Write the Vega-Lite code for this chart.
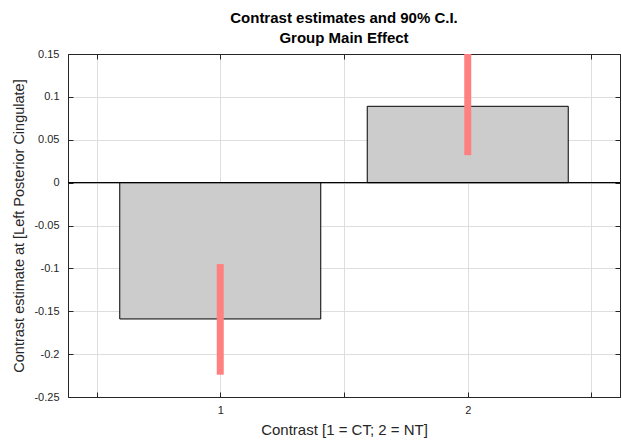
{
  "$schema": "https://vega.github.io/schema/vega-lite/v6.json",
  "autosize": "none",
  "width": 552,
  "height": 343,
  "padding": {"left": 68, "top": 54, "right": 2, "bottom": 45},
  "background": "white",
  "config": {
    "font": "Liberation Sans",
    "view": {"stroke": "#262626", "strokeWidth": 1},
    "axis": {
      "labelFont": "Liberation Sans",
      "titleFont": "Liberation Sans",
      "labelColor": "#262626",
      "titleColor": "#262626",
      "domainColor": "#262626",
      "tickColor": "#262626",
      "gridColor": "#dedede",
      "labelFontSize": 11,
      "titleFontSize": 14.5,
      "titleFontWeight": "normal",
      "tickSize": -5
    }
  },
  "title": {
    "text": ["Contrast estimates and 90% C.I.", "Group Main Effect"],
    "font": "Liberation Sans",
    "fontSize": 15,
    "fontWeight": "bold",
    "color": "#000000",
    "anchor": "middle",
    "frame": "group",
    "lineHeight": 20,
    "offset": 2
  },
  "data": {
    "values": [
      {"contrast": 1, "estimate": -0.159, "lo": -0.224, "hi": -0.095},
      {"contrast": 2, "estimate": 0.089, "lo": 0.032, "hi": 0.152}
    ]
  },
  "resolve": {"axis": {"x": "independent", "y": "independent"}},
  "layer": [
    {
      "mark": {"type": "bar", "width": 201, "fill": "#cccccc", "stroke": "#000000", "strokeWidth": 1, "clip": true},
      "encoding": {
        "x": {
          "field": "contrast", "type": "quantitative",
          "scale": {"domain": [0.405, 2.595], "nice": false, "zero": false},
          "axis": {
            "title": "Contrast [1 = CT; 2 = NT]",
            "titleFontSize": 15,
            "values": [0.5, 1, 1.5, 2, 2.5],
            "labelExpr": "datum.value == 1 || datum.value == 2 ? datum.value + '' : ''",
            "labelPadding": 12,
            "titlePadding": 7,
            "grid": true
          }
        },
        "y": {
          "field": "estimate", "type": "quantitative",
          "scale": {"domain": [-0.25, 0.15], "nice": false},
          "axis": {
            "title": "Contrast estimate at [Left Posterior Cingulate]",
            "values": [-0.25, -0.2, -0.15, -0.1, -0.05, 0, 0.05, 0.1, 0.15],
            "labelExpr": "datum.value == 0 ? '0' : toString(round(datum.value * 100) / 100)",
            "labelPadding": 14,
            "titlePadding": 7,
            "grid": true
          }
        },
        "y2": {"datum": 0}
      }
    },
    {
      "mark": {"type": "rule", "color": "#000000", "strokeWidth": 1},
      "encoding": {"y": {"datum": 0, "type": "quantitative", "axis": {"orient": "right", "title": null, "labels": false, "grid": false, "values": [-0.25, -0.2, -0.15, -0.1, -0.05, 0, 0.05, 0.1, 0.15]}}}
    },
    {
      "mark": {"type": "rule", "color": "#ff8080", "strokeWidth": 7, "clip": true},
      "encoding": {
        "x": {"field": "contrast", "type": "quantitative", "axis": {"orient": "top", "title": null, "labels": false, "grid": false, "values": [0.5, 1, 1.5, 2, 2.5]}},
        "y": {"field": "lo", "type": "quantitative", "axis": null},
        "y2": {"field": "hi"}
      }
    }
  ]
}
